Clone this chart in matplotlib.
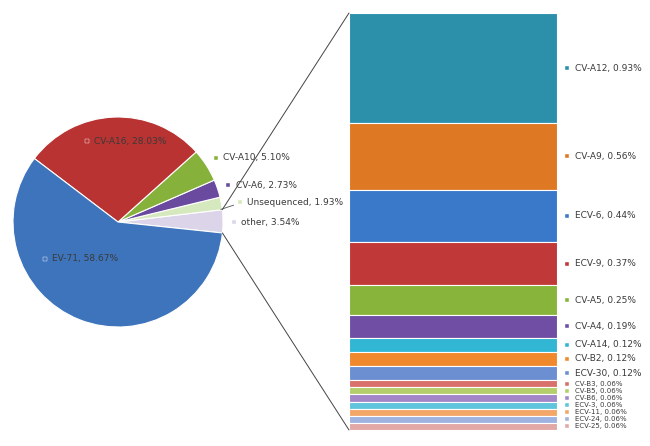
import numpy as np
import matplotlib.pyplot as plt
from matplotlib.patches import ConnectionPatch

# pie data (counter-clockwise order starting at the "other" wedge)
pie_labels = ['other', 'Unsequenced', 'CV-A6', 'CV-A10', 'CV-A16', 'EV-71']
pie_values = [3.54, 1.93, 2.73, 5.10, 28.03, 58.67]
pie_colors = ['#dcd5ea', '#d6e8bd', '#6a4a9e', '#86b23c', '#b83331', '#3d74bb']

# bar data (top to bottom)
bar_labels = ['CV-A12', 'CV-A9', 'ECV-6', 'ECV-9', 'CV-A5', 'CV-A4', 'CV-A14',
              'CV-B2', 'ECV-30', 'CV-B3', 'CV-B5', 'CV-B6', 'ECV-3', 'ECV-11',
              'ECV-24', 'ECV-25']
bar_values = [0.93, 0.56, 0.44, 0.37, 0.25, 0.19, 0.12, 0.12, 0.12,
              0.06, 0.06, 0.06, 0.06, 0.06, 0.06, 0.06]
bar_colors = ['#2c90ab', '#de7823', '#3a79c9', '#c03837', '#88b43c', '#6f4ea4',
              '#31b6d3', '#f0892c', '#6b8fd0', '#d8716c', '#b3ce6a', '#a286c7',
              '#60c4dd', '#f2a769', '#9eb3e0', '#e1a8a6']

text_color = '#3a3a3a'
fs = 6.5

fig = plt.figure(figsize=(6.5, 4.46), dpi=100)
fig.patch.set_facecolor('white')

# pie axes: centre ~ (118, 222) px, radius ~105 px
ax1 = fig.add_axes([13 / 650, (446 - 327) / 446, 210 / 650, 210 / 446])
wedges, _ = ax1.pie(pie_values, colors=pie_colors, startangle=-6, counterclock=True,
                    wedgeprops=dict(edgecolor='white', linewidth=0.8))
ax1.set_xlim(-1, 1)
ax1.set_ylim(-1, 1)
ax1.set_aspect('equal')
ax1.axis('off')

pie_label_pos = {
    'EV-71': (-0.70, -0.35),
    'CV-A16': (-0.30, 0.77),
    'CV-A10': (0.93, 0.61),
    'CV-A6': (1.05, 0.35),
    'Unsequenced': (1.16, 0.19),
    'other': (1.10, 0.00),
}
for lab, val, col in zip(pie_labels, pie_values, pie_colors):
    x, y = pie_label_pos[lab]
    ax1.plot(x, y, marker='s', ms=3, color=col, mec='white', mew=0.3, clip_on=False)
    ax1.text(x + 0.07, y, f'{lab}, {val:.2f}%', fontsize=fs, color=text_color,
             va='center', ha='left', clip_on=False)
# leader line for the small "Unsequenced" slice
ax1.plot([0.98, 1.10], [0.12, 0.16], color='#555555', lw=0.6, clip_on=False)

# bar axes
ax2 = fig.add_axes([349 / 650, (446 - 430) / 446, 208 / 650, 417 / 446])
total = sum(bar_values)
bottom = 0
centers = []
for val, col in zip(bar_values, bar_colors):
    ax2.bar(0, val, width=1, bottom=bottom, color=col, edgecolor='white', linewidth=0.8)
    centers.append(bottom + val / 2)
    bottom += val
ax2.set_xlim(-0.5, 0.5)
ax2.set_ylim(total, 0)
ax2.axis('off')

trans = ax2.get_yaxis_transform()
for lab, val, col, yc in zip(bar_labels, bar_values, bar_colors, centers):
    small = val < 0.1
    ax2.plot(1.048, yc, marker='s', ms=2.5 if small else 3, color=col, mec='white',
             mew=0.3, transform=trans, clip_on=False)
    ax2.text(1.085, yc, f'{lab}, {val:.2f}%', fontsize=5 if small else fs,
             color=text_color, va='center', ha='left', transform=trans, clip_on=False)

# connecting lines from the "other" wedge to the bar
w = wedges[0]
r = w.r
for ang, ybar in [(w.theta2, 0), (w.theta1, total)]:
    xy_pie = (r * np.cos(np.radians(ang)), r * np.sin(np.radians(ang)))
    con = ConnectionPatch(xyA=(-0.5, ybar), coordsA=ax2.transData,
                          xyB=xy_pie, coordsB=ax1.transData,
                          color='#444444', linewidth=0.7)
    fig.add_artist(con)

fig.savefig('out.png', dpi=100, facecolor='white')
